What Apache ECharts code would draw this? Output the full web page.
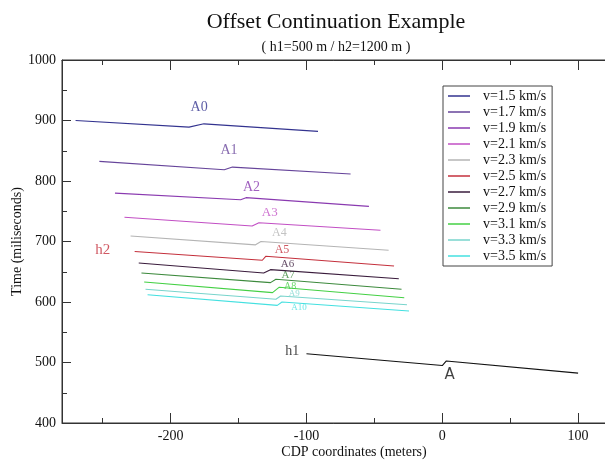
<!DOCTYPE html>
<html>
<head>
<meta charset="utf-8">
<script src="https://cdn.jsdelivr.net/npm/echarts@6/dist/echarts.min.js"></script>
<style>html,body{margin:0;padding:0;background:#fff}#c{width:605px;height:460px}</style>
</head>
<body>
<div id="c"></div>
<script>
// ---- data (CDP meters, time ms) ----
const seriesNames = ['v=1.5 km/s','v=1.7 km/s','v=1.9 km/s','v=2.1 km/s','v=2.3 km/s','v=2.5 km/s','v=2.7 km/s','v=2.9 km/s','v=3.1 km/s','v=3.3 km/s','v=3.5 km/s'];
const v15 = [[-270,900],[-186.5,889],[-175.5,894.5],[-91.5,882]];
const v17 = [[-252.5,832.5],[-160.5,818.5],[-154.5,823],[-67.5,811.5]];
const v19 = [[-241,780],[-148.5,769],[-144.5,772.5],[-54,758]];
const v21 = [[-234,740],[-140,725.5],[-135,731],[-45.5,718.5]];
const v23 = [[-229.5,709],[-137.5,694.5],[-133.5,700],[-39.5,685.5]];
const v25 = [[-226.5,683.5],[-132.5,669],[-130,675.5],[-35.5,659.5]];
const v27 = [[-223.5,664.5],[-131.5,648],[-126.5,653.5],[-32,638.5]];
const v29 = [[-221.5,648],[-126.5,632],[-122.5,637.5],[-30,621]];
const v31 = [[-219.5,633],[-125,615.5],[-120,624.5],[-28,607]];
const v33 = [[-218.5,621],[-122.5,604.5],[-119,610],[-26,595.5]];
const v35 = [[-217,612],[-121.5,594.5],[-118,600],[-24.5,585]];
const h1Line = [[-100,514.5],[0,495],[3,502.5],[100,482.5]];
const xMajorTicks = [-200,-100,0,100];
const xMinorTicks = [-250,-150,-50,50];
// annotation anchors in data coordinates
const annotations = [
  ['A0',-179,921],['A1',-157,850.5],['A2',-140.5,790],['A3',-127,747],['A4',-120,714],
  ['A5',-118,686.5],['A6',-114,662],['A7',-113.5,644],['A8',-112,626.5],['A9',-109,614.5],['A10',-105.5,590.5],
  ['h2',-250,686.5],['h1',-110.5,519],['A',5.5,479]
];

const colors = ['#33338f','#66449a','#8a3ab0','#c24fc4','#b4b4b4','#c4303c','#3a1c3c','#3d8a3d','#44d044','#78d4cc','#44e0e0'];
const lines = [v15,v17,v19,v21,v23,v25,v27,v29,v31,v33,v35];
const labelStyle = {
  A0:{c:colors[0],s:14},A1:{c:colors[1],s:14},A2:{c:colors[2],s:14},A3:{c:colors[3],s:13},A4:{c:colors[4],s:12},
  A5:{c:colors[5],s:12},A6:{c:colors[6],s:11},A7:{c:colors[7],s:11},A8:{c:colors[8],s:10},A9:{c:colors[9],s:9},A10:{c:colors[10],s:9},
  h2:{c:'#c4303c',s:15},h1:{c:'#111',s:14},A:{c:'#111',s:15,f:'DejaVu Sans'}
};

const serif = 'Liberation Serif';
const chart = echarts.init(document.getElementById('c'), null, {renderer:'canvas'});

const series = lines.map((d,i)=>({
  name: seriesNames[i], type:'line', data:d, symbol:'none', showSymbol:false,
  lineStyle:{color:colors[i], width:1.1}, itemStyle:{color:colors[i]}, animation:false, z:3
}));
series.push({
  name:'h1', type:'line', data:h1Line, symbol:'none', lineStyle:{color:'#111', width:1.1}, animation:false
});
series.push({
  name:'labels', type:'scatter', symbolSize:0, animation:false, silent:true,
  data: annotations.map(a=>({name:a[0], value:[a[1],a[2]],
    label:{show:true, position:'inside', formatter:a[0], color:labelStyle[a[0]].c,
      fontSize:labelStyle[a[0]].s, fontFamily:labelStyle[a[0]].f || serif}}))
});

const axisLineStyle = {color:'#333', width:1};
const baseX = {type:'value', min:-280, max:150, gridIndex:0, splitLine:{show:false}};
chart.setOption({
  animation:false,
  title:[
    {text:'Offset Continuation Example', left:336, top:11, textAlign:'center', padding:0,
     textStyle:{fontFamily:serif, fontSize:22, fontWeight:'normal', color:'#111'}},
    {text:'( h1=500 m / h2=1200 m )', left:336, top:40, textAlign:'center', padding:0,
     textStyle:{fontFamily:serif, fontSize:14, fontWeight:'normal', color:'#111'}}
  ],
  legend:{
    data: seriesNames, orient:'vertical', left:443, top:86, padding:[2,6,2,5],
    icon:'rect', itemWidth:22, itemHeight:1.5, itemGap:0, selectedMode:false,
    backgroundColor:'#fff', borderColor:'#444', borderWidth:1,
    textStyle:{fontFamily:serif, fontSize:14, color:'#111', lineHeight:16, padding:[0,0,0,8]}
  },
  grid:{left:62, top:60, width:584, height:363, containLabel:false, outerBoundsMode:'none',
    show:true, borderColor:'#333', borderWidth:1, backgroundColor:'transparent'},
  xAxis:[
    Object.assign({}, baseX, {position:'bottom', name:'CDP coordinates (meters)', nameLocation:'middle', nameGap:22,
      nameMoveOverlap:false,
      nameTextStyle:{fontFamily:serif, fontSize:14, color:'#111'},
      axisLine:{show:true, onZero:false, lineStyle:axisLineStyle},
      axisTick:{show:true, inside:true, length:10, lineStyle:axisLineStyle, customValues:xMajorTicks},
      axisLabel:{show:true, customValues:xMajorTicks, fontFamily:serif, fontSize:14, color:'#111', margin:6}}),
    Object.assign({}, baseX, {position:'bottom', axisLine:{show:false, onZero:false},
      axisTick:{show:true, inside:true, length:5, lineStyle:axisLineStyle, customValues:xMinorTicks},
      axisLabel:{show:false}}),
    Object.assign({}, baseX, {position:'top', axisLine:{show:true, onZero:false, lineStyle:axisLineStyle},
      axisTick:{show:true, inside:true, length:10, lineStyle:axisLineStyle, customValues:xMajorTicks},
      axisLabel:{show:false}}),
    Object.assign({}, baseX, {position:'top', axisLine:{show:false, onZero:false},
      axisTick:{show:true, inside:true, length:5, lineStyle:axisLineStyle, customValues:xMinorTicks},
      axisLabel:{show:false}})
  ],
  yAxis:[{
    type:'value', min:400, max:1000, interval:100, position:'left',
    name:'Time (miliseconds)', nameLocation:'middle', nameGap:38, nameRotate:90, nameMoveOverlap:false,
    nameTextStyle:{fontFamily:serif, fontSize:14, color:'#111'},
    axisLine:{show:true, onZero:false, lineStyle:axisLineStyle},
    axisTick:{show:true, inside:true, length:9, lineStyle:axisLineStyle},
    minorTick:{show:true, splitNumber:2, length:5, lineStyle:axisLineStyle},
    axisLabel:{fontFamily:serif, fontSize:14, color:'#111', margin:6, formatter:(v)=>String(v)},
    splitLine:{show:false}
  }],
  series: series
});
</script>
</body>
</html>
